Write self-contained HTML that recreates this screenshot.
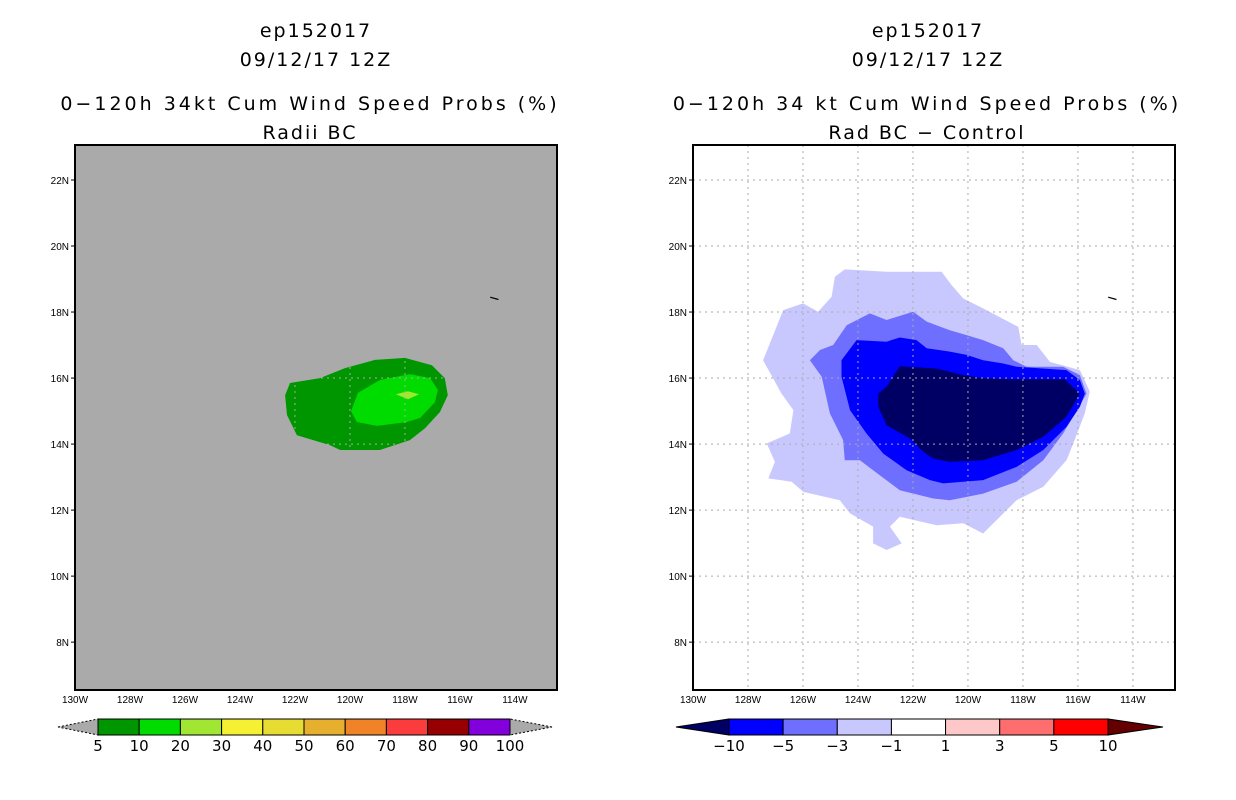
<!DOCTYPE html>
<html><head><meta charset="utf-8"><style>
body{margin:0;background:#fff;width:1236px;height:800px;overflow:hidden}
svg{display:block}
text{font-family:"DejaVu Sans","Liberation Sans",sans-serif}
.t{font-size:19px;text-anchor:middle;fill:#000;letter-spacing:2px}
.t3{letter-spacing:3px}
.tk{font-size:10px;fill:#000;font-family:"Liberation Sans",sans-serif}
.cb{font-size:15px;text-anchor:middle;fill:#000}
</style></head><body>
<svg id="c" width="1236" height="800">
<g>
<text class="t" x="316" y="37">ep152017</text>
<text class="t" x="316" y="66">09/12/17 12Z</text>
<text class="t t3" x="310" y="110">0−120h 34kt Cum Wind Speed Probs (%)</text>
<text class="t" x="310" y="139">Radii BC</text>
</g>
<g>
<text class="t" x="928" y="37">ep152017</text>
<text class="t" x="928" y="66">09/12/17 12Z</text>
<text class="t t3" x="927" y="110">0−120h 34 kt Cum Wind Speed Probs (%)</text>
<text class="t" x="927" y="139">Rad BC − Control</text>
</g>
</svg>
<script>
// ---- data ----
const lonTicks = [130,128,126,124,122,120,118,116,114];
const latTicks = [22,20,18,16,14,12,10,8];
const leftLevels = [5,10,20,30,40,50,60,70,80,90,100];
const leftColors = ['#009600','#00dc00','#a0e632','#f5f032','#e6dc32','#e6af2d','#f08228','#fa3c3c','#960000','#8200dc'];
const rightLevels = [-10,-5,-3,-1,1,3,5,10];
const rightColors = ['#0000ff','#6e6eff','#c8c8ff','#ffffff','#ffc8c8','#ff6e6e','#ff0000'];
// left contours (lon W, lat N)
const l5Lon = [122.18,121.09,120.18,119.09,118.0,117.02,116.55,116.44,116.73,117.27,117.82,118.91,120.36,120.73,121.93,122.29,122.36];
const l5Lat = [15.85,16.0,16.3,16.55,16.61,16.39,16.0,15.48,14.97,14.48,14.12,13.82,13.82,13.97,14.27,14.88,15.48];
const l10Lon = [119.96,119.71,118.91,117.82,117.09,116.8,116.91,117.45,117.93,119.02,119.75];
const l10Lat = [15.0,15.55,15.94,16.12,16.0,15.64,15.27,14.79,14.67,14.55,14.67];
const l20Lon = [118.33,117.89,117.49,117.89];
const l20Lat = [15.51,15.6,15.51,15.36];
// right contours
const r1Lon = [124.48,122.96,120.96,120.6,120.17,119.45,118.17,118.05,117.5,117.02,115.93,115.57,115.75,116.17,116.41,117.26,118.23,119.45,120.17,121.14,122.48,122.84,122.41,122.96,123.45,123.45,124.29,124.66,125.99,126.41,127.26,127.02,127.32,126.48,126.35,126.78,127.45,126.72,126.0,125.45,124.96,124.84];
const r1Lat = [19.29,19.22,19.22,18.82,18.41,18.11,17.55,17.0,17.0,16.49,16.24,15.59,14.93,14.02,13.52,12.71,12.3,11.29,11.6,11.54,11.8,11.5,10.99,10.79,10.99,11.5,11.9,12.3,12.55,12.86,12.96,13.46,14.02,14.32,15.03,15.53,16.54,18.06,18.26,18.01,18.46,19.07];
const r3Lon = [125.75,125.38,124.9,124.41,123.57,122.96,121.99,121.5,120.66,120.05,119.45,118.72,118.35,117.87,116.54,115.93,115.69,115.99,116.54,117.26,118.23,119.45,120.66,121.26,122.48,123.45,123.93,124.48,124.54,125.02,125.32];
const r3Lat = [16.54,16.85,17.0,17.6,17.96,17.76,18.01,17.71,17.45,17.3,17.15,16.9,16.54,16.34,16.34,16.09,15.53,15.08,14.32,13.51,12.86,12.5,12.3,12.35,12.6,13.21,13.51,13.51,14.12,14.93,16.04];
const r5Lon = [124.6,124.05,122.96,122.48,121.87,121.5,120.66,120.05,119.45,118.72,118.23,116.42,115.93,115.75,115.93,116.42,117.26,118.23,119.45,120.9,121.38,122.23,123.08,123.69,124.29,124.6];
const r5Lat = [16.54,17.15,17.1,17.23,17.15,16.9,16.8,16.7,16.54,16.44,16.34,16.24,15.94,15.53,15.13,14.52,13.82,13.31,12.91,12.81,12.91,13.21,13.71,14.32,15.03,16.04];
const r10Lon = [122.48,121.14,120.17,119.45,118.23,116.48,115.93,116.42,117.26,118.23,119.45,120.66,121.26,121.63,122.11,122.96,123.26,123.26,122.96];
const r10Lat = [16.36,16.29,16.09,15.99,15.96,15.96,15.53,14.83,14.22,13.82,13.51,13.46,13.56,13.77,14.17,14.57,15.13,15.53,15.74];
const islandLon = [114.9,114.6];
const islandLat = [18.45,18.38];

// ---- axes ----
const NS='http://www.w3.org/2000/svg';
const svg=document.getElementById('c');
const W=482, H=545, TOP=145, LON0=130, LON1=112.47, LAT0=6.55, LAT1=23.06;
function xs(ox){return lon=>ox+(LON0-lon)/(LON0-LON1)*W;}
function ys(lat){return TOP+(LAT1-lat)/(LAT1-LAT0)*H;}
function el(tag,attrs,parent){const e=document.createElementNS(NS,tag);for(const k in attrs)e.setAttribute(k,attrs[k]);(parent||svg).appendChild(e);return e;}
function poly(g,x,lons,lats,fill,name){
  const pts=lons.map((l,i)=>x(l).toFixed(1)+','+ys(lats[i]).toFixed(1)).join(' ');
  const p=el('polygon',{points:pts,fill:fill},g);
  
  
}
function panel(ox,bg,name,shapes,gridColor){
  const x=xs(ox);
  const g=el('g',{});
  
  
  const r=el('rect',{x:ox,y:TOP,width:W,height:H,fill:bg},g);
  
  
  shapes.forEach(s=>poly(g,x,s[0],s[1],s[2],s[3]));
  lonTicks.forEach(l=>{
    const ln=el('line',{x1:x(l),x2:x(l),y1:TOP,y2:TOP+H,stroke:gridColor,'stroke-width':1,'stroke-dasharray':'2,4'},g);
    
    
    const t=el('text',{x:x(l),y:TOP+H+13,'text-anchor':'middle',class:'tk'},g);
    t.textContent=l+'W';
    
    
  });
  latTicks.forEach(l=>{
    const ln=el('line',{x1:ox,x2:ox+W,y1:ys(l),y2:ys(l),stroke:gridColor,'stroke-width':1,'stroke-dasharray':'2,4'},g);
    
    
    const tk=el('line',{x1:ox-4,x2:ox,y1:ys(l),y2:ys(l),stroke:'#000'},g);
    
    
    const t=el('text',{x:ox-6,y:ys(l)+4,'text-anchor':'end',class:'tk'},g);
    t.textContent=l+'N';
    
    
  });
  const isl=el('line',{x1:x(islandLon[0]),y1:ys(islandLat[0]),x2:x(islandLon[1]),y2:ys(islandLat[1]),stroke:'#000','stroke-width':1.2},g);
  
  
  const b=el('rect',{x:ox,y:TOP,width:W,height:H,fill:'none',stroke:'#000','stroke-width':2},g);
  
  
}
panel(75,'#aaaaaa','left-map-panel',[
  [l5Lon,l5Lat,leftColors[0],'contour-5-10'],
  [l10Lon,l10Lat,leftColors[1],'contour-10-20'],
  [l20Lon,l20Lat,leftColors[2],'contour-20-30']],'#aaaaaa');
panel(693,'#ffffff','right-map-panel',[
  [r1Lon,r1Lat,rightColors[2],'contour-minus1-minus3'],
  [r3Lon,r3Lat,rightColors[1],'contour-minus3-minus5'],
  [r5Lon,r5Lat,rightColors[0],'contour-minus5-minus10'],
  [r10Lon,r10Lat,'#000064','contour-below-minus10']],'#aaaaaa');

// ---- colorbars ----
function colorbar(name,x0,x1,xa,xb,levels,colors,lowC,highC){
  const g=el('g',{});
  
  
  const y0=719,y1=735,ym=727;
  const lt=el('polygon',{points:`${xa},${ym} ${x0},${y0} ${x0},${y1}`,fill:lowC,stroke:'#000','stroke-width':1,'stroke-dasharray':lowC==='#aaaaaa'?'2,2':''},g);
  
  
  const rt=el('polygon',{points:`${xb},${ym} ${x1},${y0} ${x1},${y1}`,fill:highC,stroke:'#000','stroke-width':1,'stroke-dasharray':highC==='#aaaaaa'?'2,2':''},g);
  
  
  const w=(x1-x0)/colors.length;
  colors.forEach((c,i)=>{
    const r=el('rect',{x:x0+i*w,y:y0,width:w,height:y1-y0,fill:c,stroke:'#000','stroke-width':1},g);
    
    
  });
  levels.forEach((v,i)=>{
    const t=el('text',{x:x0+i*w,y:751,class:'cb'},g);
    t.textContent=String(v).replace('-','−');
    
    
  });
}
colorbar('left-colorbar',98,510,58,552,leftLevels,leftColors,'#aaaaaa','#aaaaaa');
colorbar('right-colorbar',729,1108,676,1163,rightLevels,rightColors,'#000064','#640000');
</script>
</body></html>
